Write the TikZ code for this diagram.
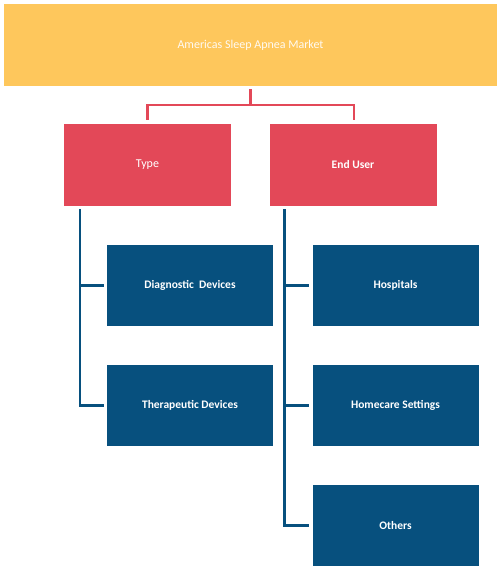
\documentclass[tikz,border=0pt]{standalone}
\usepackage{fontspec}
\setmainfont{Carlito}
\definecolor{topyellow}{HTML}{FEC75C}
\definecolor{boxred}{HTML}{E34858}
\definecolor{boxblue}{HTML}{07507E}
\begin{document}
\begin{tikzpicture}[x=1pt,y=-1pt,
  box/.style={inner sep=0pt, text=white, font=\fontsize{12}{14}\selectfont},
  topbox/.style={box, fill=topyellow, minimum width=493pt, minimum height=82pt, text=white!92!topyellow},
  catbox/.style={box, fill=boxred, minimum width=167pt, minimum height=82pt},
  leafbox/.style={box, fill=boxblue, minimum width=166pt, minimum height=81pt, font=\fontsize{11.5}{14}\selectfont\bfseries},
  redline/.style={draw=boxred, line width=2.5pt},
  blueline/.style={draw=boxblue, line width=2.5pt}]
\useasboundingbox (0,0) rectangle (500,570);
\node[topbox] (top) at (250.5,45) {Americas Sleep Apnea Market};
\node[catbox] (type) at (147.5,165) {Type};
\node[catbox, font=\fontsize{11.5}{14}\selectfont\bfseries] (end) at (353,165) {End User};
\node[leafbox] (diag) at (190,285.5) {Diagnostic\ \ Devices};
\node[leafbox] (ther) at (190,405.5) {Therapeutic Devices};
\node[leafbox] (hosp) at (395.5,285.5) {Hospitals};
\node[leafbox] (home) at (395.5,405.5) {Homecare Settings};
\node[leafbox] (oth) at (395.5,525.5) {Others};
\coordinate (ts) at ([yshift=-3pt]top.south);
\coordinate (mid) at ([yshift=-19pt]top.south);
\draw[redline] (ts) -- (mid) -| ([yshift=4pt]type.north);
\draw[redline] (mid) -| ([xshift=1pt,yshift=4pt]end.north);
\coordinate (tl) at ([xshift=16pt,yshift=-3pt]type.south west);
\draw[blueline] (tl) |- ([xshift=-3pt]diag.west);
\draw[blueline] (tl) |- ([xshift=-3pt]ther.west);
\coordinate (el) at ([xshift=15pt,yshift=-3pt]end.south west);
\draw[blueline] (el) |- ([xshift=-3pt]hosp.west);
\draw[blueline] (el) |- ([xshift=-3pt]home.west);
\draw[blueline] (el) |- ([xshift=-3pt]oth.west);
\end{tikzpicture}
\end{document}
